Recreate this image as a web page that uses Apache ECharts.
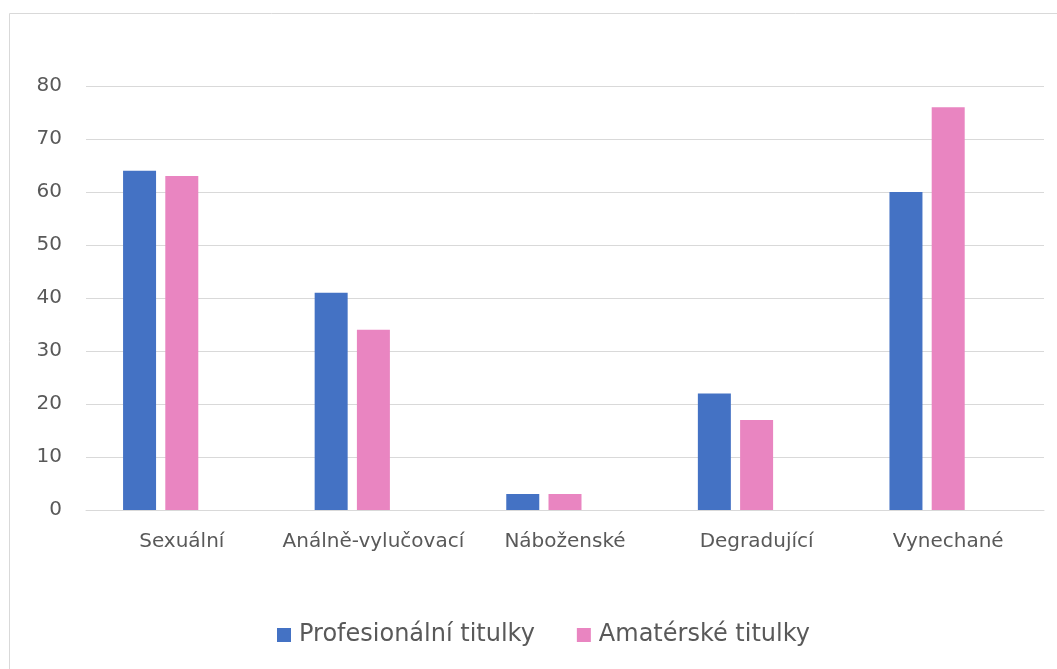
<!DOCTYPE html>
<html><head><meta charset="utf-8">
<script src="https://cdn.jsdelivr.net/npm/echarts@6/dist/echarts.min.js"></script>
<style>html,body{margin:0;padding:0;background:#fff}#c{width:1057px;height:669px}</style>
</head><body><div id="c"></div>
<script>
const categories = ['Sexuální', 'Análně-vylučovací', 'Náboženské', 'Degradující', 'Vynechané'];
const profesionalni = [64, 41, 3, 22, 60];
const amaterske = [63, 34, 3, 17, 76];
const seriesNames = ['Profesionální titulky', 'Amatérské titulky'];
const yTicks = [0, 10, 20, 30, 40, 50, 60, 70, 80];

const font = "'DejaVu Sans', sans-serif";
const chart = echarts.init(document.getElementById('c'), null, {renderer: 'canvas'});
chart.setOption({
  animation: false,
  graphic: [{
    type: 'rect', shape: {x: 9.5, y: 13.5, width: 1100, height: 700},
    style: {fill: 'none', stroke: '#d9d9d9', lineWidth: 1}, silent: true, z: -1
  }],
  grid: {left: 86, right: 13, top: 86, bottom: 159, containLabel: false},
  legend: {
    data: seriesNames, top: 618, left: 272, itemWidth: 14, itemHeight: 14,
    icon: 'rect', itemGap: 42,
    textStyle: {fontFamily: font, fontSize: 24, color: '#595959', padding: [0, 0, 0, 3]}
  },
  xAxis: {
    type: 'category', data: categories,
    axisLine: {lineStyle: {color: '#d9d9d9', width: 1}},
    axisTick: {show: false},
    axisLabel: {fontFamily: font, fontSize: 20, color: '#595959', margin: 22,
                interval: 0, hideOverlap: false}
  },
  yAxis: {
    type: 'value', min: yTicks[0], max: yTicks[yTicks.length - 1], interval: 10,
    axisLine: {show: false}, axisTick: {show: false},
    splitLine: {lineStyle: {color: '#d9d9d9', width: 1}},
    axisLabel: {fontFamily: font, fontSize: 20, color: '#595959', margin: 24}
  },
  series: [
    {name: seriesNames[0], type: 'bar', data: profesionalni, barWidth: 33, barGap: '28%',
     itemStyle: {color: '#4472c4'}},
    {name: seriesNames[1], type: 'bar', data: amaterske, barWidth: 33, barGap: '28%',
     itemStyle: {color: '#e985c1'}},
    {name: 'spacer', type: 'bar', data: categories.map(() => null), barWidth: 33, barGap: '28%'}
  ]
});
</script></body></html>
